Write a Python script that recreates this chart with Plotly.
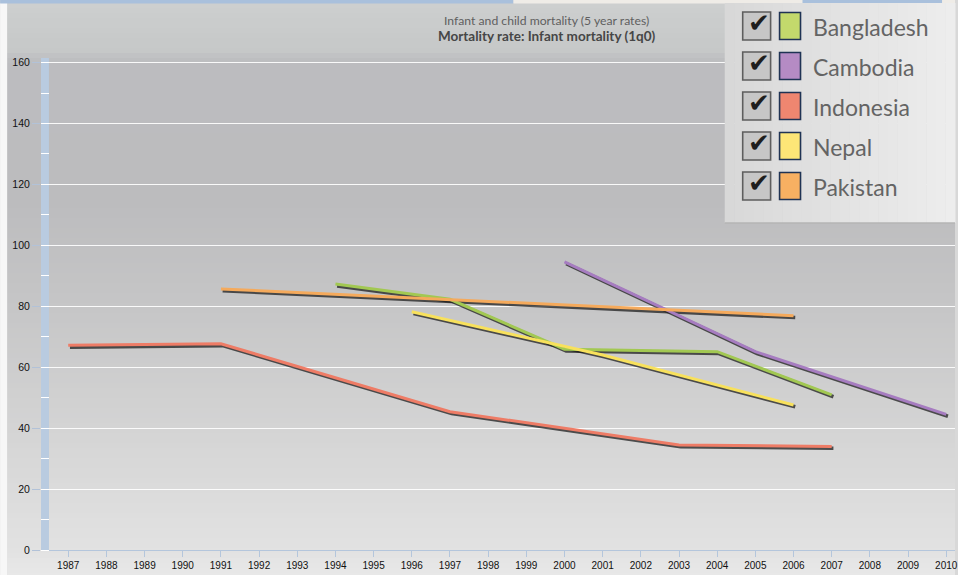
import numpy as np
import plotly.graph_objects as go

# ---------------- data ----------------
countries = ["Bangladesh", "Cambodia", "Indonesia", "Nepal", "Pakistan"]
colors = ["#a2c852", "#a67cc0", "#ee7c66", "#f8e15c", "#f5aa5c"]
legend_colors = ["#c3d96c", "#b58bc4", "#ef8670", "#fde677", "#f7b062"]

bangladesh_years = [1994, 1997, 2000, 2004, 2007]
bangladesh_vals = [87.3, 82.3, 65.9, 65.1, 50.9]
cambodia_years = [2000, 2005, 2010]
cambodia_vals = [94.6, 65.1, 44.5]
indonesia_years = [1987, 1991, 1997, 2003, 2007]
indonesia_vals = [67.2, 67.7, 45.4, 34.5, 34.0]
nepal_years = [1996, 2001, 2006]
nepal_vals = [78.2, 64.0, 47.6]
pakistan_years = [1991, 2006]
pakistan_vals = [85.7, 76.9]

year_ticks = list(range(1987, 2011))
value_ticks = [0, 20, 40, 60, 80, 100, 120, 140, 160]

title_line1 = "Infant and child mortality (5 year rates)"
title_line2 = "Mortality rate: Infant mortality (1q0)"

series = [
    (bangladesh_years, bangladesh_vals),
    (cambodia_years, cambodia_vals),
    (indonesia_years, indonesia_vals),
    (nepal_years, nepal_vals),
    (pakistan_years, pakistan_vals),
]

# ---------------- layout geometry ----------------
W, H = 958, 575
L, T, B, R = 41, 58, 25, 0
PW, PH = W - L - R, H - T - B


def fx(px):
    return (px - L) / PW


def fy(py):
    return (H - B - py) / PH


def hex2rgb(h):
    h = h.lstrip("#")
    return np.array([int(h[i:i + 2], 16) for i in (0, 2, 4)], dtype=float)


def rgb2hex(c):
    return "#%02x%02x%02x" % tuple(int(round(v)) for v in c)


fig = go.Figure()

# shadows first
for (xs, ys) in series:
    fig.add_trace(go.Scatter(
        x=np.array(xs) + 0.045, y=np.array(ys) - 0.6, mode="lines",
        line=dict(color="rgba(30,30,30,0.75)", width=3.6),
        hoverinfo="skip", showlegend=False))
for name, col, (xs, ys) in zip(countries, colors, series):
    fig.add_trace(go.Scatter(
        x=xs, y=ys, mode="lines", name=name,
        line=dict(color=col, width=3), showlegend=False))

shapes = []
# background gradient bands
stops_y = [3, 50, 62, 200, 300, 420, 550, 575]
stops_c = ["#cdcfcf", "#c6c8c8", "#bcbcbf", "#bcbcbe", "#c5c5c6", "#d3d3d3", "#e2e2e2", "#e8e8e8"]
stops_rgb = np.array([hex2rgb(c) for c in stops_c])
band_edges = np.arange(3, 576, 5)
for y0 in band_edges:
    y1 = min(y0 + 5, 575)
    mid = (y0 + y1) / 2
    c = [np.interp(mid, stops_y, stops_rgb[:, k]) for k in range(3)]
    shapes.append(dict(type="rect", xref="paper", yref="paper",
                       x0=fx(7), x1=fx(W), y0=fy(y1), y1=fy(y0),
                       fillcolor=rgb2hex(c), line=dict(width=0), layer="below"))
# left white strip
shapes.append(dict(type="rect", xref="paper", yref="paper", x0=fx(0), x1=fx(7),
                   y0=fy(H), y1=fy(3), fillcolor="#f7f7f7", line=dict(width=0), layer="below"))
# top strips
shapes.append(dict(type="rect", xref="paper", yref="paper", x0=fx(0), x1=fx(515),
                   y0=fy(3.5), y1=fy(0), fillcolor="#a9c0dc", line=dict(width=0), layer="below"))
shapes.append(dict(type="rect", xref="paper", yref="paper", x0=fx(515), x1=fx(W),
                   y0=fy(3.5), y1=fy(0), fillcolor="#efece7", line=dict(width=0), layer="below"))
shapes.append(dict(type="rect", xref="paper", yref="paper", x0=fx(805), x1=fx(945),
                   y0=fy(3), y1=fy(0), fillcolor="#a9c0dc", line=dict(width=0), layer="below"))
# blue y-axis bar
shapes.append(dict(type="rect", xref="paper", yref="paper", x0=0, x1=fx(49),
                   y0=0, y1=1, fillcolor="#b9cbe0", line=dict(width=0), layer="below"))

# legend panel (horizontal gradient)
lp_x0, lp_x1, lp_y0, lp_y1 = 727, 958, 3, 223
nstrip = 24
c_left, c_right = hex2rgb("#d8d8d8"), hex2rgb("#ededed")
for i in range(nstrip):
    a = lp_x0 + (lp_x1 - lp_x0) * i / nstrip
    b = lp_x0 + (lp_x1 - lp_x0) * (i + 1) / nstrip
    t = (i + 0.5) / nstrip
    shapes.append(dict(type="rect", xref="paper", yref="paper",
                       x0=fx(a), x1=fx(b) + 0.0005, y0=fy(lp_y1), y1=fy(lp_y0),
                       fillcolor=rgb2hex(c_left + (c_right - c_left) * t),
                       line=dict(width=0), layer="above"))
shapes.append(dict(type="line", xref="paper", yref="paper", x0=fx(lp_x0), x1=fx(lp_x1),
                   y0=fy(lp_y1), y1=fy(lp_y1), line=dict(color="#b4b4b4", width=1.5), layer="above"))

annotations = []
row_h = 40
for i, (name, lc) in enumerate(zip(countries, legend_colors)):
    cy = 26 + row_h * i
    # checkbox
    shapes.append(dict(type="rect", xref="paper", yref="paper",
                       x0=fx(745), x1=fx(773), y0=fy(cy + 14), y1=fy(cy - 14),
                       fillcolor="#c6c6c6", line=dict(color="#5e5e5e", width=1.6), layer="above"))
    annotations.append(dict(xref="paper", yref="paper", x=fx(761), y=fy(cy - 3),
                            text="✔", showarrow=False, xanchor="center", yanchor="middle",
                            font=dict(family="DejaVu Sans", size=26, color="#1e1e1e")))
    # colour swatch
    shapes.append(dict(type="rect", xref="paper", yref="paper",
                       x0=fx(782), x1=fx(803), y0=fy(cy + 13.5), y1=fy(cy - 13.5),
                       fillcolor=lc, line=dict(color="#1f3354", width=1.6), layer="above"))
    annotations.append(dict(xref="paper", yref="paper", x=fx(814), y=fy(cy + 1),
                            text=name, showarrow=False, xanchor="left", yanchor="middle",
                            font=dict(family="Lato", size=23, color="#646464")))

# title
annotations.append(dict(xref="paper", yref="paper", x=fx(548), y=fy(20), text=title_line1,
                        showarrow=False, xanchor="center", yanchor="middle",
                        font=dict(family="Lato", size=12.2, color="#5f5f5f")))
annotations.append(dict(xref="paper", yref="paper", x=fx(548), y=fy(36), text="<b>" + title_line2 + "</b>",
                        showarrow=False, xanchor="center", yanchor="middle",
                        font=dict(family="Lato", size=13.5, color="#464646")))

fig.update_layout(
    width=W, height=H,
    margin=dict(l=L, r=R, t=T, b=B, pad=0),
    paper_bgcolor="#d8d8d8", plot_bgcolor="rgba(0,0,0,0)",
    shapes=shapes, annotations=annotations,
    showlegend=False, hovermode=False,
    xaxis=dict(range=[1986.287, 2010.23], tickvals=year_ticks, ticktext=[str(y) for y in year_ticks],
               ticks="outside", ticklen=6, tickcolor="#b4c6dc", tickwidth=1,
               showline=True, linecolor="#b4c6dc", linewidth=1.2, showgrid=False, zeroline=False,
               ticklabeloverflow="allow",
               tickfont=dict(family="Liberation Sans", size=10, color="#111111"), fixedrange=True),
    yaxis=dict(range=[0, 161.5], tickvals=value_ticks, ticktext=[str(v) for v in value_ticks],
               ticks="outside", ticklen=8, tickcolor="#b2c2d8", tickwidth=1,
               showgrid=True, gridcolor="rgba(255,255,255,0.9)", gridwidth=1,
               zeroline=False, showline=False,
               minor=dict(ticks="inside", ticklen=8, tickcolor="#ffffff", tickwidth=1.2,
                          tick0=0, dtick=10, showgrid=False),
               tickfont=dict(family="Liberation Sans", size=10.5, color="#111111"), fixedrange=True),
)

fig.write_html("out.html", config={"displayModeBar": False},
               post_script="document.body.style.margin='0';document.body.style.padding='0';"
                           "document.body.style.overflow='hidden';")
